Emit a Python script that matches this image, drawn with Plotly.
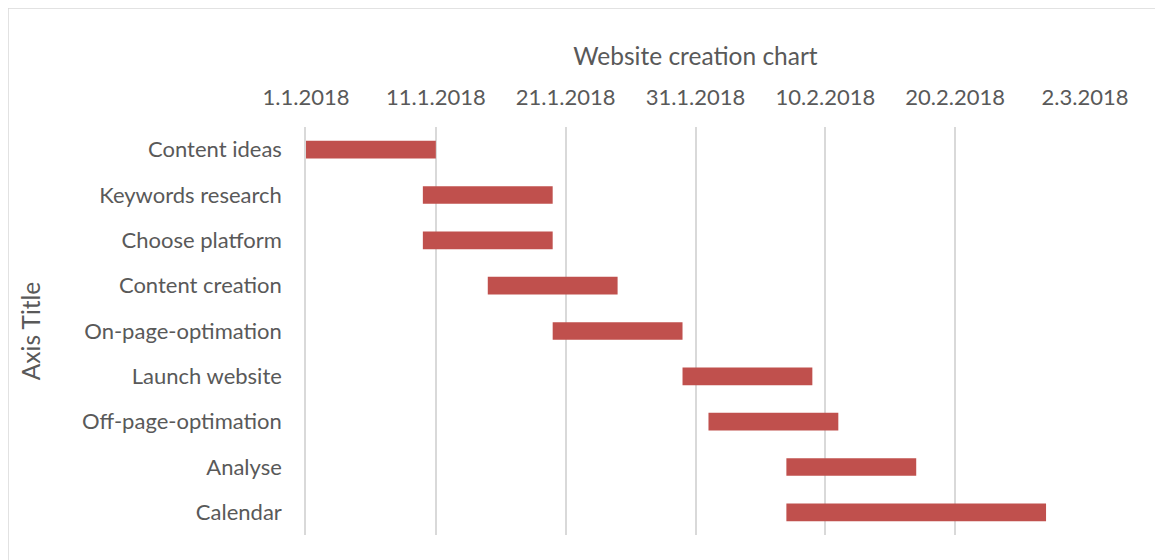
import plotly.graph_objects as go

tasks = ["Content ideas", "Keywords research", "Choose platform", "Content creation",
         "On-page-optimation", "Launch website", "Off-page-optimation", "Analyse", "Calendar"]
start_dates = ["2018-01-01", "2018-01-10", "2018-01-10", "2018-01-15",
               "2018-01-20", "2018-01-30", "2018-02-01", "2018-02-07", "2018-02-07"]
duration_days = [10, 10, 10, 10, 10, 10, 10, 10, 20]

DAY_MS = 86400000
# page body has an 8px margin, so the figure is sized to fit inside the window
W, H = 1155, 552
L, R, T, B = 298, 78, 119, 25
text_color = "#595959"
font_family = "Lato, sans-serif"

fig = go.Figure()
fig.add_trace(go.Bar(
    y=tasks,
    x=[d * DAY_MS for d in duration_days],
    base=start_dates,
    orientation="h",
    width=0.39,
    marker=dict(color="#C0504D", line=dict(width=0)),
    showlegend=False,
    hoverinfo="skip",
))

fig.update_layout(
    width=W, height=H,
    margin=dict(l=L, r=R, t=T, b=B, autoexpand=False),
    plot_bgcolor="white",
    paper_bgcolor="white",
    font=dict(family=font_family, size=22, color=text_color),
)

fig.update_xaxes(
    type="date",
    side="top",
    range=["2018-01-01", "2018-03-02"],
    tick0="2018-01-01",
    dtick=10 * DAY_MS,
    tickformat="%-d.%-m.%Y",
    showgrid=True,
    gridcolor="#d9d9d9",
    gridwidth=1.5,
    zeroline=False,
    showline=False,
    ticks="",
    automargin=False,
    ticklabelstandoff=17,
    tickfont=dict(size=22, color=text_color),
    title=dict(text="Website creation chart", font=dict(size=24.5, color=text_color), standoff=10),
)

fig.update_yaxes(
    type="category",
    categoryorder="array",
    categoryarray=tasks,
    autorange="reversed",
    showgrid=False,
    showline=True,
    linecolor="#d9d9d9",
    linewidth=1.5,
    ticks="",
    automargin=False,
    ticklabelstandoff=18,
    tickfont=dict(size=22, color=text_color),
    title=dict(text="Axis Title", font=dict(size=24.5, color=text_color), standoff=35),
)

# outer chart border
pw, ph = W - L - R, H - T - B
fig.add_shape(
    type="rect", xref="paper", yref="paper",
    x0=-L / pw, x1=(1149 - L) / pw,
    y0=-(B + 10) / ph, y1=(H - B) / ph,
    line=dict(color="#d9d9d9", width=1.5),
    fillcolor="rgba(0,0,0,0)",
    layer="below",
)

fig.write_html("out.html")
